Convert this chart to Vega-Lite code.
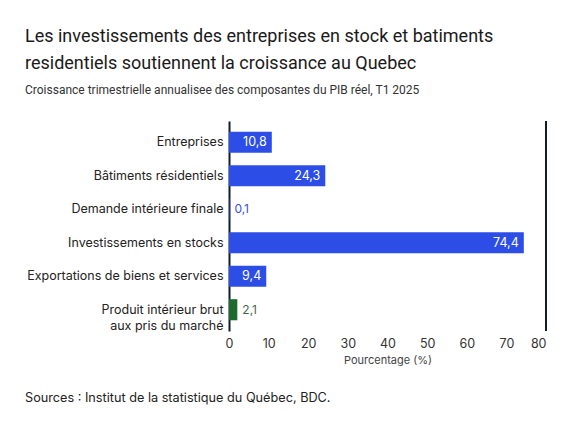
{
  "$schema": "https://vega.github.io/schema/vega-lite/v6.json",
  "padding": {"left": 25, "top": 28, "right": 10, "bottom": 10},
  "background": "white",
  "title": {
    "text": ["Les investissements des entreprises en stock et batiments", "residentiels soutiennent la croissance au Quebec"],
    "subtitle": "Croissance trimestrielle annualisee des composantes du PIB réel, T1 2025",
    "anchor": "start",
    "frame": "group",
    "dx": -204,
    "font": "Roboto",
    "fontSize": 18,
    "fontWeight": "normal",
    "color": "#1a1a1a",
    "lineHeight": 27,
    "subtitleFont": "Roboto",
    "subtitleFontSize": 12,
    "subtitleColor": "#333333",
    "subtitlePadding": 12,
    "offset": 24
  },
  "config": {
    "view": {"stroke": null},
    "font": "Inter",
    "locale": {"number": {"decimal": ",", "thousands": " ", "grouping": [3], "currency": ["", " $"]}}
  },
  "vconcat": [
    {
      "width": 317,
      "height": 210,
      "title": {
        "text": "Sources : Institut de la statistique du Québec, BDC.",
        "orient": "bottom",
        "anchor": "start",
        "frame": "group",
        "dx": -204,
        "offset": 26,
        "font": "Inter",
        "fontSize": 12.7,
        "fontWeight": "normal",
        "color": "#222222"
      },
      "data": {
        "values": [
          {"cat": "Entreprises", "value": 10.8, "type": "composante"},
          {"cat": "Bâtiments résidentiels", "value": 24.3, "type": "composante"},
          {"cat": "Demande intérieure finale", "value": 0.1, "type": "composante"},
          {"cat": "Investissements en stocks", "value": 74.4, "type": "composante"},
          {"cat": "Exportations de biens et services", "value": 9.4, "type": "composante"},
          {"cat": "Produit intérieur brut|aux pris du marché", "value": 2.1, "type": "pib"}
        ]
      },
      "encoding": {
        "x": {
          "field": "value",
          "type": "quantitative",
          "scale": {"domain": [0, 80], "nice": false},
          "title": "Pourcentage (%)",
          "axis": {
            "values": [0, 10, 20, 30, 40, 50, 60, 70, 80],
            "format": "d",
            "grid": false,
            "ticks": false,
            "domain": false,
            "labelOverlap": false,
            "labelFontSize": 12.5,
            "labelColor": "#333333",
            "labelPadding": 6,
            "labelFlush": false,
            "labelAlign": {"condition": {"test": "datum.value == 80", "value": "right"}, "value": "center"},
            "titleFontSize": 11,
            "titleFontWeight": "normal",
            "titleColor": "#444444",
            "titlePadding": 5
          }
        }
      },
      "layer": [
        {
          "mark": {"type": "bar"},
          "encoding": {
            "y": {
              "field": "cat",
              "type": "nominal",
              "sort": null,
              "title": null,
              "scale": {"paddingInner": 0.37, "paddingOuter": 0.32},
              "axis": {
                "labelExpr": "split(datum.value, '|')",
                "labelFontSize": 12.5,
                "labelColor": "#222222",
                "labelLineHeight": 16,
                "labelPadding": 6,
                "ticks": false,
                "domain": true,
                "domainColor": "#0f1c2b",
                "domainWidth": 2,
                "labelLimit": 300
              }
            },
            "color": {
              "field": "type",
              "type": "nominal",
              "scale": {"domain": ["composante", "pib"], "range": ["#2c4ee6", "#1e6a2c"]},
              "legend": null
            }
          }
        },
        {
          "transform": [{"filter": "datum.value >= 5"}],
          "mark": {"type": "text", "align": "right", "dx": -5, "fontSize": 12.5, "color": "white", "baseline": "middle"},
          "encoding": {
            "y": {"field": "cat", "type": "nominal", "sort": null},
            "text": {"field": "value", "type": "quantitative", "format": ".1f"}
          }
        },
        {
          "transform": [{"filter": "datum.value < 5"}],
          "mark": {"type": "text", "align": "left", "dx": 5, "fontSize": 12, "baseline": "middle"},
          "encoding": {
            "y": {"field": "cat", "type": "nominal", "sort": null},
            "text": {"field": "value", "type": "quantitative", "format": ".1f"},
            "fill": {
              "field": "type",
              "type": "nominal",
              "scale": {"domain": ["composante", "pib"], "range": ["#3552e0", "#3d6b44"]},
              "legend": null
            }
          }
        },
        {
          "mark": {"type": "rule", "color": "#0f1c2b", "strokeWidth": 2},
          "encoding": {"x": {"datum": 80}}
        }
      ]
    }
  ]
}
